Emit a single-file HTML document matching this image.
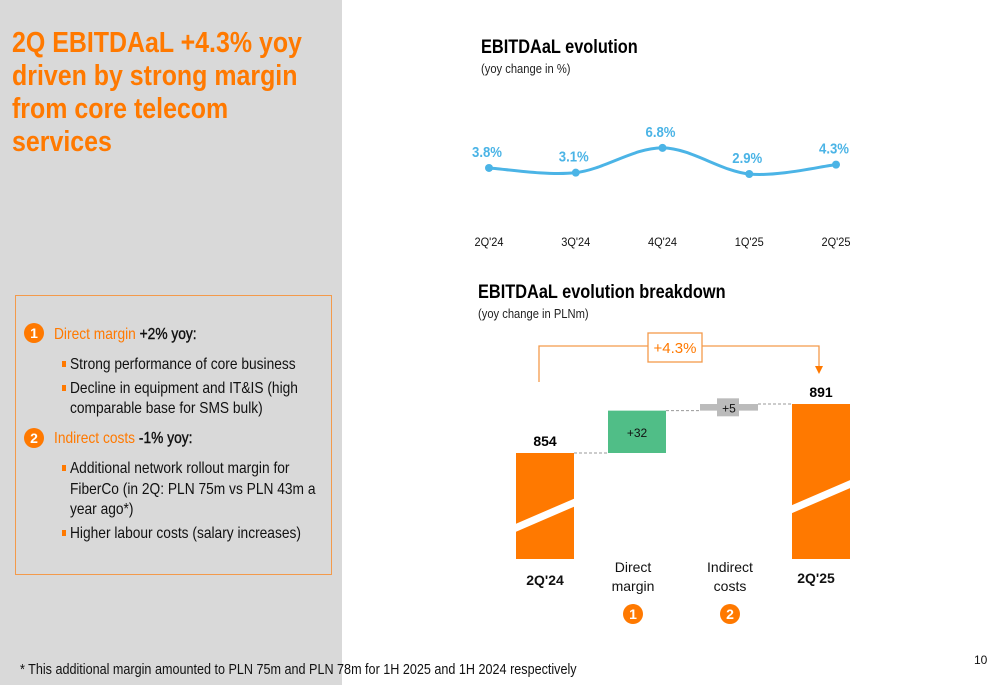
<!DOCTYPE html>
<html><head><meta charset="utf-8"><style>
body{margin:0;width:1000px;height:685px;position:relative;overflow:hidden;background:#fff;font-family:"Liberation Sans",Arial,sans-serif}
.abs{position:absolute}
.sx{transform:scaleX(0.86);transform-origin:0 0;white-space:nowrap}
.ln{position:absolute;left:54px;font-size:16px;line-height:20px;color:#111;white-space:nowrap;transform:scaleX(0.86);transform-origin:0 0}
.bul{position:absolute;left:46px;width:4px;height:6px;background:#ff7900}
</style></head><body>
<div class="abs" style="left:0;top:0;width:342px;height:685px;background:#d9d9d9"></div>
<div class="abs sx" style="left:12px;top:27px;font-size:29px;line-height:33px;font-weight:bold;color:#ff7900;transform:scaleX(0.86)">2Q EBITDAaL +4.3% yoy<br>driven by strong margin<br>from core telecom<br>services</div>
<div class="abs" style="left:15px;top:295px;width:317px;height:280px;border:1px solid #f39a4b;box-sizing:border-box">
  <div class="abs" style="left:8px;top:27px;width:20px;height:20px;border-radius:50%;background:#ff7900;color:#fff;font-weight:bold;font-size:14px;text-align:center;line-height:20px">1</div>
  <div class="ln" style="left:38px;top:29px"><span style="color:#ff7900">Direct margin</span> <span style="-webkit-text-stroke:0.4px #111">+2% yoy:</span></div>
  <div class="bul" style="top:65px"></div><div class="ln" style="top:59px">Strong performance of core business</div>
  <div class="bul" style="top:89px"></div><div class="ln" style="top:83px">Decline in equipment and IT&amp;IS (high</div>
  <div class="ln" style="top:103px">comparable base for SMS bulk)</div>
  <div class="abs" style="left:8px;top:132px;width:20px;height:20px;border-radius:50%;background:#ff7900;color:#fff;font-weight:bold;font-size:14px;text-align:center;line-height:20px">2</div>
  <div class="ln" style="left:38px;top:133px"><span style="color:#ff7900">Indirect costs</span> <span style="-webkit-text-stroke:0.4px #111">-1% yoy:</span></div>
  <div class="bul" style="top:169px"></div><div class="ln" style="top:163px">Additional network rollout margin for</div>
  <div class="ln" style="top:184px">FiberCo (in 2Q: PLN 75m vs PLN 43m a</div>
  <div class="ln" style="top:204px">year ago*)</div>
  <div class="bul" style="top:234px"></div><div class="ln" style="top:228px">Higher labour costs (salary increases)</div>
</div>
<div class="abs sx" style="left:20px;top:661px;font-size:15px;color:#111;transform:scaleX(0.84)">* This additional margin amounted to PLN 75m and PLN 78m for 1H 2025 and 1H 2024 respectively</div>
<div class="abs" style="left:974px;top:653px;font-size:12px;color:#111">10</div>

<div class="abs sx" style="left:481px;top:37px;font-size:19px;font-weight:bold;color:#000">EBITDAaL evolution</div>
<div class="abs sx" style="left:481px;top:61px;font-size:13px;color:#222">(yoy change in %)</div>
<div class="abs sx" style="left:478px;top:282px;font-size:19px;font-weight:bold;color:#000">EBITDAaL evolution breakdown</div>
<div class="abs sx" style="left:478px;top:306px;font-size:13px;color:#222">(yoy change in PLNm)</div>

<svg class="abs" style="left:0;top:0" width="1000" height="685" id="chart" font-family="Liberation Sans, Arial, sans-serif"></svg>
<script>
const quarters=["2Q'24","3Q'24","4Q'24","1Q'25","2Q'25"];
const yoyValues=[3.8,3.1,6.8,2.9,4.3];
const wfCategories=["2Q'24","Direct margin","Indirect costs","2Q'25"];
const wfValues=[854,32,5,891];
const totalChange="+4.3%";

const NS="http://www.w3.org/2000/svg";
const svg=document.getElementById('chart');
function mk(t,a,p){const e=document.createElementNS(NS,t);for(const k in a)e.setAttribute(k,a[k]);(p||svg).appendChild(e);return e;}
const lx=i=>489+i*86.75;
const ly=v=>174-(v-2.9)*6.7;
const pts=yoyValues.map((v,i)=>[lx(i),ly(v)]);
let d="M"+pts[0][0]+","+pts[0][1];
for(let i=0;i<pts.length-1;i++){const p0=pts[i-1]||pts[i],p1=pts[i],p2=pts[i+1],p3=pts[i+2]||p2;
d+=" C"+(p1[0]+(p2[0]-p0[0])/6)+","+(p1[1]+(p2[1]-p0[1])/6)+" "+(p2[0]-(p3[0]-p1[0])/6)+","+(p2[1]-(p3[1]-p1[1])/6)+" "+p2[0]+","+p2[1];}
const line=mk('path',{d:d,fill:'none',stroke:'#4bb4e6','stroke-width':3});


pts.forEach((p,i)=>{
 const c=mk('circle',{cx:p[0],cy:p[1],r:4,fill:'#4bb4e6'});
 
 
 const t=mk('text',{x:p[0]-2,y:p[1]-11,'text-anchor':'middle','font-size':15,'font-weight':'bold',fill:'#4bb4e6',textLength:30,lengthAdjust:'spacingAndGlyphs'});
 t.textContent=yoyValues[i].toFixed(1)+'%';
 
 
 const q=mk('text',{x:p[0],y:246,'text-anchor':'middle','font-size':12,fill:'#111',textLength:29,lengthAdjust:'spacingAndGlyphs'});
 q.textContent=quarters[i];
 
 
});
const wy=v=>453-(v-wfValues[0])*1.324;
const bottom=559;
const bx=[516,608,700,792],bw=58;
let run=wfValues[0];
function totalBar(i,v){
 const y=wy(v);
 const r=mk('rect',{x:bx[i],y:y,width:bw,height:bottom-y,fill:'#ff7900'});
 
 
 const midY=y+(bottom-y)*0.62;
 mk('polygon',{points:`${bx[i]},${midY+5} ${bx[i]+bw},${midY-20} ${bx[i]+bw},${midY-12} ${bx[i]},${midY+13}`,fill:'#fff'});
 const t=mk('text',{x:bx[i]+bw/2,y:y-7,'text-anchor':'middle','font-size':14,'font-weight':'bold',fill:'#000'});
 t.textContent=v;
 
 
}
totalBar(0,wfValues[0]);
const y0=wy(run);
const g1=wy(run+wfValues[1]);
const r1=mk('rect',{x:bx[1],y:g1,width:bw,height:y0-g1,fill:'#50be87'});


const t1=mk('text',{x:bx[1]+bw/2,y:(g1+y0)/2+5,'text-anchor':'middle','font-size':12,fill:'#111'});t1.textContent='+'+wfValues[1];
mk('line',{x1:bx[0]+bw,x2:bx[1],y1:y0,y2:y0,stroke:'#999','stroke-dasharray':'3,2'});
run+=wfValues[1];
const g2=wy(run+wfValues[2]);const yb=wy(run);
mk('line',{x1:bx[1]+bw,x2:bx[2],y1:yb,y2:yb,stroke:'#999','stroke-dasharray':'3,2'});
const r2=mk('rect',{x:bx[2],y:g2,width:bw,height:yb-g2,fill:'#bbb'});


mk('rect',{x:bx[2]+17,y:(g2+yb)/2-9,width:22,height:18,fill:'#bbb'});
const t2=mk('text',{x:bx[2]+bw/2,y:(g2+yb)/2+5,'text-anchor':'middle','font-size':12,fill:'#111'});t2.textContent='+'+wfValues[2];
mk('line',{x1:bx[2]+bw,x2:bx[3],y1:g2,y2:g2,stroke:'#999','stroke-dasharray':'3,2'});
totalBar(3,wfValues[3]);
const lab=[[545,585,["2Q'24"],true],[633,572,["Direct","margin"],false],[730,572,["Indirect","costs"],false],[816,583,["2Q'25"],true]];
lab.forEach(l=>{l[2].forEach((s,j)=>{const t=mk('text',{x:l[0],y:l[1]+j*19,'text-anchor':'middle','font-size':14,'font-weight':l[3]?'bold':'normal',fill:'#111'});t.textContent=s;
 
 });});
[[633,'1'],[730,'2']].forEach(b=>{mk('circle',{cx:b[0],cy:614,r:10,fill:'#ff7900'});const t=mk('text',{x:b[0],y:619,'text-anchor':'middle','font-size':14,'font-weight':'bold',fill:'#fff'});t.textContent=b[1];});
mk('polyline',{points:'539,382 539,346 648,346',fill:'none',stroke:'#f39a4b','stroke-width':1.3});
mk('polyline',{points:'702,346 819,346 819,366',fill:'none',stroke:'#f39a4b','stroke-width':1.3});
mk('polygon',{points:'815,366 823,366 819,374',fill:'#ff7900'});
mk('rect',{x:648,y:333,width:54,height:29,fill:'#fff',stroke:'#f39a4b','stroke-width':1.3});
const bt=mk('text',{x:675,y:353,'text-anchor':'middle','font-size':15,fill:'#ff7900'});bt.textContent=totalChange;


</script>
</body></html>
